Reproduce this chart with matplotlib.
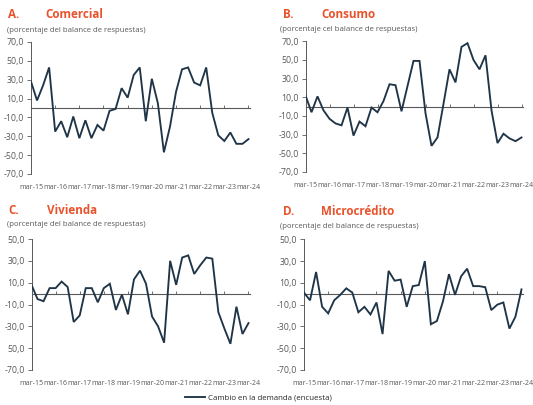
import matplotlib
matplotlib.use("Agg")
import matplotlib.pyplot as plt
import numpy as np

plt.rcParams['font.family'] = ['Open Sans', 'DejaVu Sans']

years = ["mar-15", "mar-16", "mar-17", "mar-18", "mar-19", "mar-20",
         "mar-21", "mar-22", "mar-23", "mar-24"]

comercial = [28, 8, 24, 43, -25, -14, -31, -9, -32, -13, -32, -18, -24, -3, -1,
             21, 11, 35, 43, -14, 31, 5, -47, -20, 17, 41, 43, 27, 24, 43, -5,
             -29, -35, -26, -38, -38, -33]
consumo = [12, -6, 11, -4, -13, -18, -20, -1, -31, -16, -21, -1, -6, 6, 24, 23,
           -5, 22, 49, 49, -7, -42, -33, 3, 40, 26, 64, 68, 50, 40, 55, -4, -39,
           -29, -34, -37, -33]
vivienda = [8, -5, -7, 5, 5, 11, 6, -26, -20, 5, 5, -8, 5, 9, -15, -1, -19, 13,
            21, 9, -21, -30, -45, 30, 8, 33, 35, 18, 26, 33, 32, -17, -32, -46,
            -12, -37, -27]
microcredito = [1, -6, 20, -12, -18, -6, -1, 5, 1, -17, -12, -19, -8, -37, 21,
                12, 13, -12, 7, 8, 30, -28, -25, -7, 18, -1, 16, 23, 7, 7, 6,
                -15, -10, -8, -32, -21, 4]

ticks_top = [70, 50, 30, 10, -10, -30, -50, -70]
labels_top = ["70,0", "50,0", "30,0", "10,0", "-10,0", "-30,0", "-50,0", "-70,0"]
ticks_bot = [50, 30, 10, -10, -30, -50, -70]
labels_c = ["50,0", "30,0", "10,0", "-10,0", "-30,0", "50,0", "-70,0"]
labels_d = ["50,0", "30,0", "10,0", "-10,0", "-30,0", "-50,0", "-70,0"]

letters = ["A.", "B.", "C.", "D."]
titles = ["Comercial", "Consumo", "Vivienda", "Microcrédito"]
subtitles = ["(porcentaje del balance de respuestas)",
             "(porcentaje cel balance de respuestas)",
             "(porcentaje del balance de respuestas)",
             "(porcentaje del balance de respuestas)"]
series_name = "Cambio en la demanda (encuesta)"

LINE = '#1f3547'
GRAY = '#595959'
ORANGE = '#e9532b'

W, H = 533, 405
fig = plt.figure(figsize=(W / 100, H / 100), dpi=100)

def fx(px):
    return px / W

def fy(py):
    return 1 - py / H

panels = [
    dict(data=comercial, box=(31, 250, 42, 174), ticks=ticks_top, labels=labels_top,
         lims=(-70, 70), letter=(8, 15), title=(45, 15), sub=(7, 30)),
    dict(data=consumo, box=(305.5, 523, 41.3, 172), ticks=ticks_top, labels=labels_top,
         lims=(-70, 70), letter=(283, 15), title=(321, 15), sub=(280, 29.5)),
    dict(data=vivienda, box=(31.5, 250, 239, 370), ticks=ticks_bot, labels=labels_c,
         lims=(-70, 50), letter=(8, 210), title=(47, 210), sub=(7, 225)),
    dict(data=microcredito, box=(304, 523, 239.3, 370), ticks=ticks_bot, labels=labels_d,
         lims=(-70, 50), letter=(283, 211), title=(321, 211), sub=(280, 226.5)),
]

handle = None
for i, p in enumerate(panels):
    l, r, t, b = p['box']
    ax = fig.add_axes([fx(l), fy(b), fx(r) - fx(l), fy(t) - fy(b)])
    n = len(p['data'])
    x = np.arange(n)
    ln, = ax.plot(x, p['data'], color=LINE, lw=1.35, solid_joinstyle='miter',
                  label=series_name, zorder=3)
    handle = ln
    ax.set_xlim(0, n - 1 + 0.25)
    ax.set_ylim(*p['lims'])
    ax.set_yticks(p['ticks'])
    ax.set_yticklabels(p['labels'])
    ax.tick_params(axis='y', direction='out', length=3, width=0.6, color=GRAY,
                   labelsize=6.3, labelcolor=GRAY, pad=2)
    # zero line with upward ticks
    ax.spines['bottom'].set_position(('data', 0))
    ax.spines['bottom'].set_color(GRAY)
    ax.spines['bottom'].set_linewidth(0.8)
    ax.set_xticks(np.arange(0, n, 4))
    ax.tick_params(axis='x', direction='in', length=2.5, width=0.6, color=GRAY,
                   labelbottom=False)
    for s in ['top', 'right']:
        ax.spines[s].set_visible(False)
    ax.spines['left'].set_color(GRAY)
    ax.spines['left'].set_linewidth(0.7)
    ax.set_facecolor('none')
    # category labels at the bottom of the plot
    sec = ax.secondary_xaxis('bottom')
    sec.set_xticks(np.arange(0, n, 4))
    sec.set_xticklabels(years)
    sec.tick_params(axis='x', length=0, labelsize=5.1, labelcolor=GRAY, pad=7)
    for s in sec.spines.values():
        s.set_visible(False)

    lx, ly = p['letter']
    fig.text(fx(lx), fy(ly), letters[i], color=ORANGE, fontsize=8.4,
             fontweight='bold', va='center', ha='left')
    tx, ty = p['title']
    fig.text(fx(tx), fy(ty), titles[i], color=ORANGE, fontsize=8.4,
             fontweight='bold', va='center', ha='left')
    sx, sy = p['sub']
    fig.text(fx(sx), fy(sy), subtitles[i], color=GRAY, fontsize=5.6,
             va='center', ha='left')

fig.legend([handle], [series_name], loc='center', bbox_to_anchor=(fx(258), fy(398)),
           frameon=False, fontsize=5.7, handlelength=2.6, handletextpad=0.3,
           labelcolor='#262626')

fig.savefig('out.png', dpi=100)
